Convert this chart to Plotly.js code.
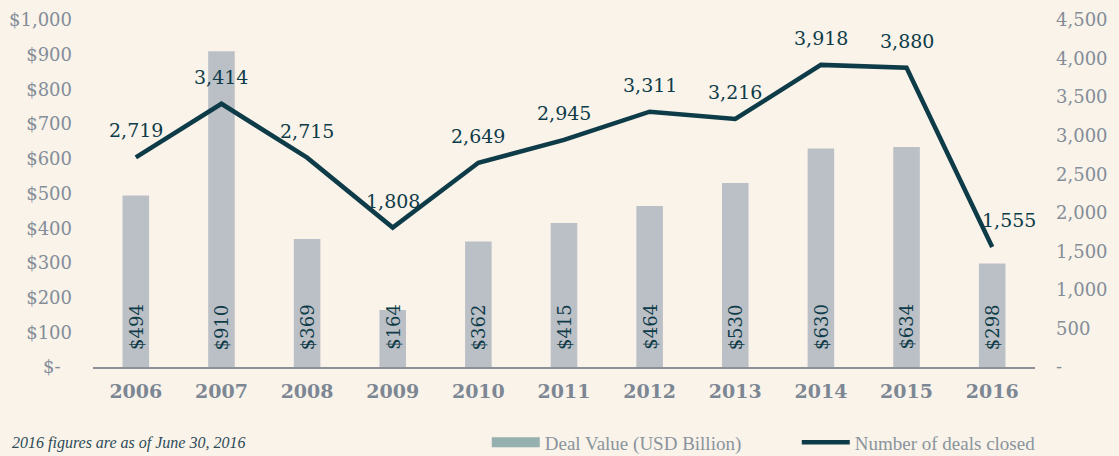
<!DOCTYPE html>
<html>
<head>
<meta charset="utf-8">
<script src="https://cdn.plot.ly/plotly-3.0.1.min.js"></script>
<style>
  html, body { margin: 0; padding: 0; background: #f9f3ea; }
  #chart { width: 1119px; height: 456px; }
</style>
</head>
<body>
<div id="chart"></div>
<script>
// Données
const years = ['2006', '2007', '2008', '2009', '2010', '2011', '2012', '2013', '2014', '2015', '2016'];
const dealValue = [494, 910, 369, 164, 362, 415, 464, 530, 630, 634, 298];
const dealsClosed = [2719, 3414, 2715, 1808, 2649, 2945, 3311, 3216, 3918, 3880, 1555];

const leftTicks = [0, 100, 200, 300, 400, 500, 600, 700, 800, 900, 1000];
const leftLabels = ['$-\u00a0\u00a0', '$100', '$200', '$300', '$400', '$500', '$600', '$700', '$800', '$900', '$1,000'];
const rightTicks = [0, 500, 1000, 1500, 2000, 2500, 3000, 3500, 4000, 4500];
const rightLabels = ['-', '500', '1,000', '1,500', '2,000', '2,500', '3,000', '3,500', '4,000', '4,500'];

const dark = '#0e3b48';
const grey = '#848d98';

const traces = [
    {
        x: years,
        y: dealValue,
        type: 'bar',
        width: 0.31,
        marker: { color: '#bbbfc6' },
        hoverinfo: 'skip',
        showlegend: false
    },
    // trace fantôme pour la légende (rectangle vert-gris dans l'original)
    {
        x: [years[0]],
        y: [null],
        type: 'scatter',
        mode: 'lines',
        line: { color: '#95b0ae', width: 14 },
        name: 'Deal Value (USD Billion)'
    },
    {
        x: years,
        y: dealsClosed,
        yaxis: 'y2',
        type: 'scatter',
        mode: 'lines',
        line: { color: dark, width: 4.5 },
        name: 'Number of deals closed'
    }
];

// étiquettes verticales dans les barres
const barLabels = years.map((yr, i) => ({
    x: i,
    y: 20,
    xref: 'x',
    yref: 'y',
    text: '$' + dealValue[i],
    textangle: -90,
    xanchor: 'center',
    yanchor: 'bottom',
    yshift: 8,
    showarrow: false,
    font: { family: 'DejaVu Serif', size: 18, color: dark }
}));

// étiquettes au-dessus de la courbe (la dernière décalée à droite)
const lineLabels = years.map((yr, i) => ({
    x: i,
    y: dealsClosed[i],
    xref: 'x',
    yref: 'y2',
    text: dealsClosed[i].toLocaleString('en-US'),
    xanchor: 'center',
    yanchor: 'middle',
    yshift: 27,
    xshift: i === years.length - 1 ? 17 : 0,
    showarrow: false,
    font: { family: 'DejaVu Serif', size: 19, color: dark }
}));

const layout = {
    width: 1119,
    height: 456,
    paper_bgcolor: '#f9f3ea',
    plot_bgcolor: '#f9f3ea',
    margin: { l: 93, r: 84, t: 20, b: 89 },
    barmode: 'overlay',
    font: { family: 'DejaVu Serif', color: grey },
    xaxis: {
        type: 'category',
        range: [-0.5, 10.5],
        showline: true,
        linecolor: '#8c9097',
        linewidth: 2,
        ticks: '',
        ticklabelstandoff: 6,
        tickfont: { family: 'DejaVu Serif', size: 19, color: '#7d8794', weight: 'bold' },
        automargin: false
    },
    yaxis: {
        range: [0, 1000],
        tickvals: leftTicks,
        ticktext: leftLabels,
        showgrid: false,
        zeroline: false,
        ticks: '',
        ticklabelstandoff: 20,
        tickfont: { family: 'DejaVu Serif', size: 18, color: grey },
        automargin: false
    },
    yaxis2: {
        overlaying: 'y',
        side: 'right',
        range: [0, 4500],
        tickvals: rightTicks,
        ticktext: rightLabels,
        showgrid: false,
        zeroline: false,
        ticks: '',
        ticklabelstandoff: 20,
        tickfont: { family: 'DejaVu Serif', size: 18, color: grey },
        automargin: false
    },
    legend: {
        orientation: 'h',
        xref: 'container',
        yref: 'container',
        x: 0.435,
        xanchor: 'left',
        y: 0.03,
        yanchor: 'middle',
        bgcolor: 'rgba(0,0,0,0)',
        font: { family: 'Liberation Serif', size: 19, color: '#8a939c' },
        entrywidth: 247,
        itemwidth: 48
    },
    annotations: [
        {
            text: '<i>2016 figures are as of June 30, 2016</i>',
            xref: 'paper',
            yref: 'paper',
            x: -0.088,
            y: -0.22,
            xanchor: 'left',
            yanchor: 'middle',
            showarrow: false,
            font: { family: 'Liberation Serif', size: 16, color: '#2e4b57' }
        }
    ].concat(barLabels, lineLabels),
    showlegend: true
};

Plotly.newPlot('chart', traces, layout, { displayModeBar: false, staticPlot: true });
</script>
</body>
</html>
